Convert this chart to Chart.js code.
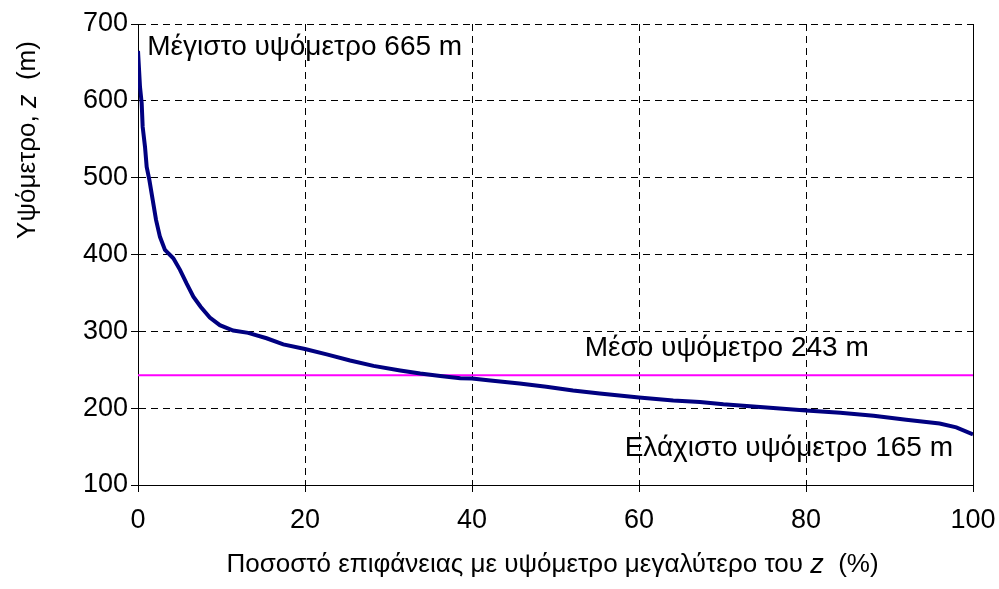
<!DOCTYPE html>
<html>
<head>
<meta charset="utf-8">
<script src="https://cdn.jsdelivr.net/npm/chart.js@4/dist/chart.umd.min.js"></script>
<style>
  html, body { margin: 0; padding: 0; background: #fff; }
  #wrap { width: 999px; height: 589px; }
</style>
</head>
<body>
<div id="wrap"><canvas id="hypsoChart" width="999" height="589"></canvas></div>
<script>
// υψομετρική καμπύλη: ποσοστό επιφάνειας (%) - υψόμετρο (m)
const pctArea = [0, 0.24, 0.44, 0.56, 0.84, 1.04, 1.36, 1.76, 2.16, 2.63, 3.23, 4.23, 5.03, 5.83, 6.63,
    7.5, 8.6, 9.8, 11.4, 13.2, 15.4, 17.4, 20, 22.6, 25.4, 28.2, 31.4, 33.8, 36.2, 38.6, 40,
    42.2, 45.7, 48.9, 52.1, 55.3, 60, 64.1, 67.3, 70.1, 74.1, 80, 84.1, 88.1, 92, 96, 98, 100];
const elevation = [665, 618, 597, 566, 540, 514, 497, 471, 445, 423, 406, 395, 380, 362, 345,
    332, 318, 308, 301, 298, 291, 283, 277, 270, 262, 255, 249, 245, 242, 239, 238.5,
    236, 232, 228, 223, 219, 214, 210, 208, 205, 202, 197, 194, 190, 185, 180, 175, 166];
const meanElevation = 243;
const maxElevation = 665;
const minElevation = 165;
const xTicks = [0, 20, 40, 60, 80, 100];
const yTicks = [100, 200, 300, 400, 500, 600, 700];

const FONT = 'Liberation Sans, Arial, sans-serif';

// κείμενα και τίτλοι αξόνων (με πλάγιο z)
const labelsPlugin = {
    id: 'labelsPlugin',
    afterDraw(chart) {
        const { ctx, chartArea: a, scales: { x, y } } = chart;
        ctx.save();

        // δεξί περίγραμμα
        ctx.strokeStyle = '#000';
        ctx.lineWidth = 1;
        ctx.beginPath();
        ctx.moveTo(a.right + 0.5, a.top);
        ctx.lineTo(a.right + 0.5, a.bottom);
        ctx.stroke();

        ctx.fillStyle = '#000';
        ctx.font = '28px ' + FONT;
        ctx.textBaseline = 'middle';

        ctx.textAlign = 'left';
        ctx.fillText('Μέγιστο υψόμετρο ' + maxElevation + ' m', x.getPixelForValue(1.1), y.getPixelForValue(670));

        ctx.textAlign = 'center';
        ctx.fillText('Μέσο υψόμετρο ' + meanElevation + ' m', x.getPixelForValue(70.5), y.getPixelForValue(278));

        ctx.textAlign = 'right';
        ctx.fillText('Ελάχιστο υψόμετρο ' + minElevation + ' m', x.getPixelForValue(97.6), y.getPixelForValue(148));

        // τίτλος άξονα x
        drawMixed(ctx, [
            ['Ποσοστό επιφάνειας με υψόμετρο μεγαλύτερο του ', '26px ' + FONT],
            ['z', 'italic 27px ' + FONT],
            ['  (%)', '26px ' + FONT]
        ], (a.left + a.right) / 2 - 3, 565, 0);

        // τίτλος άξονα y
        drawMixed(ctx, [
            ['Υψόμετρο, ', '26px ' + FONT],
            ['z', 'italic 27px ' + FONT],
            ['  (m)', '26px ' + FONT]
        ], 28, a.top + 116, -Math.PI / 2);

        ctx.restore();
    }
};

function drawMixed(ctx, parts, cx, cy, rot) {
    let total = 0;
    const widths = parts.map(p => { ctx.font = p[1]; const w = ctx.measureText(p[0]).width; total += w; return w; });
    ctx.save();
    ctx.translate(cx, cy);
    ctx.rotate(rot);
    ctx.textAlign = 'left';
    ctx.textBaseline = 'middle';
    let xx = -total / 2;
    parts.forEach((p, i) => {
        ctx.font = p[1];
        ctx.fillText(p[0], xx, 0);
        xx += widths[i];
    });
    ctx.restore();
}

const ctx = document.getElementById('hypsoChart').getContext('2d');
new Chart(ctx, {
    type: 'line',
    data: {
        datasets: [
            {
                label: 'Υψόμετρο',
                data: pctArea.map((p, i) => ({ x: p, y: elevation[i] })),
                borderColor: '#000080',
                borderWidth: 4,
                pointRadius: 0,
                tension: 0,
                order: 1
            },
            {
                label: 'Μέσο υψόμετρο',
                data: [{ x: 0, y: meanElevation }, { x: 100, y: meanElevation }],
                borderColor: '#ff00ff',
                borderWidth: 2,
                pointRadius: 0,
                order: 2
            }
        ]
    },
    options: {
        responsive: false,
        animation: false,
        layout: { padding: { top: 24, right: 26, left: 0, bottom: 0 } },
        plugins: {
            legend: { display: false },
            tooltip: { enabled: false }
        },
        scales: {
            x: {
                type: 'linear',
                min: 0,
                max: 100,
                afterBuildTicks: s => { s.ticks = xTicks.map(v => ({ value: v })); },
                afterFit: s => { s.height = 104; s.paddingLeft = 0; s.paddingRight = 0; },
                ticks: { color: '#000', font: { family: FONT, size: 27 }, padding: 12, maxRotation: 0 },
                grid: { color: '#000', tickLength: 7, tickBorderDash: [] },
                border: { color: '#000', width: 1, dash: [7, 5] }
            },
            y: {
                min: 100,
                max: 700,
                afterBuildTicks: s => { s.ticks = yTicks.map(v => ({ value: v })); },
                afterFit: s => { s.width = 138; s.paddingTop = 0; s.paddingBottom = 0; },
                ticks: { color: '#000', font: { family: FONT, size: 27 }, padding: 3 },
                grid: { color: '#000', tickLength: 7, tickBorderDash: [] },
                border: { color: '#000', width: 1, dash: [7, 5] }
            }
        }
    },
    plugins: [labelsPlugin]
});
</script>
</body>
</html>
